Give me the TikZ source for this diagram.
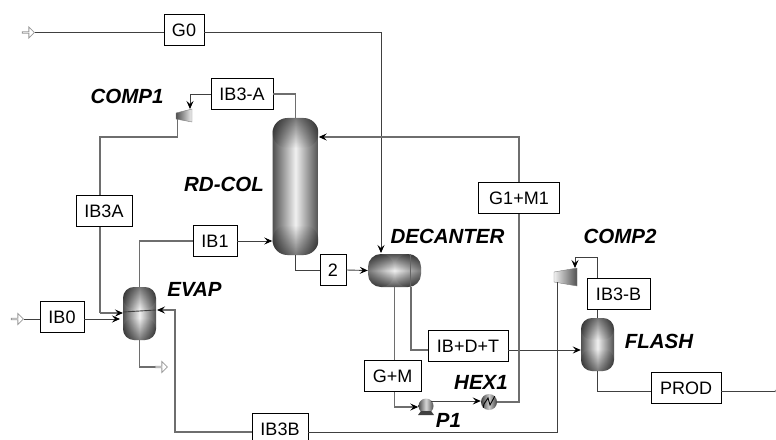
\documentclass[tikz,border=0pt]{standalone}
\usepackage{fontspec}
\setmainfont{Liberation Sans}
\usetikzlibrary{arrows.meta,shapes.arrows,fadings}
\definecolor{linegray}{HTML}{6E6E6E}
\definecolor{vesseldark}{HTML}{505050}
\definecolor{vessellight}{HTML}{F0F0F0}
\tikzfading[name=vesseltop, top color=transparent!50, bottom color=transparent!100]
\tikzfading[name=vesselbot, top color=transparent!100, bottom color=transparent!50]
\tikzset{
  streambox/.style={draw, fill=white, line width=0.9pt, inner sep=0pt, font=\fontsize{18}{20}\selectfont},
  blocklabel/.style={inner sep=0pt, font=\fontsize{20.5}{22}\selectfont\bfseries\itshape},
  vessel/.style={inner sep=0pt, left color=vesseldark, right color=vesseldark, middle color=vessellight},
  drum/.style={inner sep=0pt, top color=vesseldark, bottom color=vesseldark, middle color=vessellight},
  vesselend/.style={inner sep=0pt, fill=black},
  openarrow/.style={single arrow, draw=black!40, fill=white, line width=0.8pt, inner sep=0pt,
    minimum width=11pt, minimum height=12pt, single arrow head extend=2.5pt, single arrow head indent=0pt},
  stream/.style={draw=black!75, line width=0.9pt},
  heavy/.style={draw=linegray, line width=1.2pt},
  tip/.style={-{Stealth[length=8pt,width=7pt,inset=3pt,color=black]}}
}
\begin{document}
\begin{tikzpicture}[x=1pt, y=-1pt]
    \useasboundingbox (0,0) rectangle (776,439);
    \fill[white] (0,0) rectangle (776,439);

    \node[vessel, rounded corners=15pt, minimum width=46pt, minimum height=137pt] (rdcol) at (295.5,186.5) {};
    \node[drum, rounded corners=13pt, minimum width=53pt, minimum height=33pt] (decanter) at (394.5,270.5) {};
    \node[vessel, rounded corners=11pt, minimum width=33pt, minimum height=53pt] (evap) at (139.5,313.5) {};
    \node[vessel, rounded corners=11pt, minimum width=33pt, minimum height=53pt] (flash) at (597.5,344.5) {};
    \node[circle, inner sep=0pt, minimum size=16pt, left color=black!75, right color=black!75, middle color=black!20] (hex) at (489,402) {};
    \node[circle, inner sep=0pt, minimum size=15pt, left color=black!70, right color=black!70, middle color=black!15] (pump) at (426,406) {};

    \foreach \vname/\vwidth/\vcap/\vround in {rdcol/46/30/15, evap/33/22/11, flash/33/22/11} {
        \node[vesselend, path fading=vesseltop, rounded corners=\vround pt, minimum width=\vwidth pt, minimum height=\vcap pt, anchor=north] (\vname top) at (\vname.north) {};
        \node[vesselend, path fading=vesselbot, rounded corners=\vround pt, minimum width=\vwidth pt, minimum height=\vcap pt, anchor=south] (\vname bot) at (\vname.south) {};
    }
    \node[vesselend, path fading=vesseltop, fading angle=90, rounded corners=13pt, minimum width=26pt, minimum height=33pt, anchor=west] (decanter left) at (decanter.west) {};
    \node[vesselend, path fading=vesselbot, fading angle=90, rounded corners=13pt, minimum width=26pt, minimum height=33pt, anchor=east] (decanter right) at (decanter.east) {};
    \draw[black!60, line width=0.5pt] (410,254) -- (410,287);

    \shade[left color=vesseldark, right color=vessellight, draw=black!50, line width=0.4pt]
        (176,113) -- (192,109) -- (192,122) -- (176,119) -- cycle;
    \shade[left color=vessellight, right color=vesseldark, draw=black!50, line width=0.4pt]
        (554,272) -- (577,268) -- (577,286) -- (554,282) -- cycle;
    \coordinate (comp1in) at (190,109);
    \coordinate (comp1out) at (177.5,119);
    \coordinate (comp2in) at (575,268);
    \coordinate (comp2out) at (557,282);

    \node[streambox, minimum width=40pt, minimum height=31pt] (G0) at (184,30) {G0};
    \node[streambox, minimum width=62pt, minimum height=31pt] (IB3-A) at (242,94) {IB3-A};
    \node[streambox, minimum width=56pt, minimum height=31pt] (IB3A) at (104,211) {IB3A};
    \node[streambox, minimum width=44pt, minimum height=31pt] (IB1) at (215,241) {IB1};
    \node[streambox, minimum width=26pt, minimum height=31pt] (S2) at (333,270) {2};
    \node[streambox, minimum width=44pt, minimum height=31pt] (IB0) at (62,317) {IB0};
    \node[streambox, minimum width=56pt, minimum height=31pt] (IB3B) at (280,429) {IB3B};
    \node[streambox, minimum width=81pt, minimum height=31pt] (G1M1) at (519,198) {G1+M1};
    \node[streambox, minimum width=80pt, minimum height=31pt] (IBDT) at (468,346) {IB+D+T};
    \node[streambox, minimum width=57pt, minimum height=31pt] (GM) at (392.5,376) {G+M};
    \node[streambox, minimum width=63pt, minimum height=31pt] (IB3-B) at (618.5,294) {IB3-B};
    \node[streambox, minimum width=70pt, minimum height=31pt] (PROD) at (686,388) {PROD};

    \node[openarrow] (feedG) at (28,32.5) {};
    \node[openarrow] (feedIB) at (17,319) {};
    \node[openarrow] (bot) at (161,367) {};
    \node[openarrow] (prodout) at (781,391) {};

    \node[blocklabel] (lcomp1) at (127,96) {COMP1};
    \node[blocklabel] (lrdcol) at (224,184) {RD-COL};
    \node[blocklabel] (ldecanter) at (447.5,236) {DECANTER};
    \node[blocklabel] (lcomp2) at (620,236) {COMP2};
    \node[blocklabel] (levap) at (194.5,289) {EVAP};
    \node[blocklabel] (lflash) at (659,341) {FLASH};
    \node[blocklabel] (lhex) at (481,382) {HEX1};
    \node[blocklabel] (lp1) at (448.5,420) {P1};

    \draw[stream] (feedG.east |- 0,32.5) -- (G0.west |- 0,32.5);
    \draw[stream, tip] (G0.east |- 0,32.5) -| (381,253);
    \draw[stream, tip] (IB3-A.west) -| (comp1in);
    \draw[heavy] (IB3-A.east) -| (rdcol.north);
    \draw[heavy] (comp1out) |- (100,137) -- (IB3A.north -| 100,0);
    \draw[heavy] (IB3A.south -| 100,0) -- (100,313);
    \draw[heavy, tip] (100,313) -- (123,313);
    \draw[heavy] (IB1.west) -| (evap.north);
    \draw[stream, tip] (IB1.east) -- (rdcol.west |- IB1.east);
    \draw[stream] (rdcol.south) |- (S2.west);
    \draw[stream, tip] (S2.east) -- (decanter.west);
    \draw[stream] (feedIB.east |- 0,319) -- (IB0.west |- 0,319);
    \draw[stream, tip] (IB0.east |- 0,319) -- (120,319);
    \draw[heavy] (evap.south) |- (bot.west |- 0,367);
    \draw[heavy, tip] (IB3B.west |- 0,432) -| (175,310) -- (157,310);
    \draw[stream] (IB3B.east |- 0,432) -| (comp2out);
    \draw[stream] (123,312) -- (156,310);
    \draw[stream, tip] (IB3-B.north -| flash.north) |- (575,257) -- (comp2in);
    \draw[stream] (IB3-B.south -| flash.north) -- (flash.north);
    \draw[heavy] (411,287) |- (IBDT.west |- 0,350);
    \draw[stream, tip] (IBDT.east |- 0,350) -- (flash.west |- 0,350);
    \draw[heavy] (394.5,287) -- (GM.north -| 394.5,0);
    \draw[heavy] (GM.south -| 394.5,0) |- (407,407);
    \draw[heavy, tip] (407,407) -- (pump.west |- 0,407);
    \draw[stream, tip] (431,401) -- (hex.west |- 0,401);
    \draw[heavy] (hex.east) -| (G1M1.south);
    \draw[heavy, tip] (G1M1.north) |- (rdcol.east |- 0,137);
    \draw[stream] (flash.south) |- (PROD.west |- 0,391);
    \draw[stream] (PROD.east |- 0,391) -- (prodout.west |- 0,391);

    \draw[black, line width=0.9pt] (hex.south west) -- (484,404) -- (488,398) -- (490,405) -- (hex.north east);
    \fill[black!75] (418,415) -- (434,415) -- (431,411) -- (421,411) -- cycle;
\end{tikzpicture}
\end{document}
